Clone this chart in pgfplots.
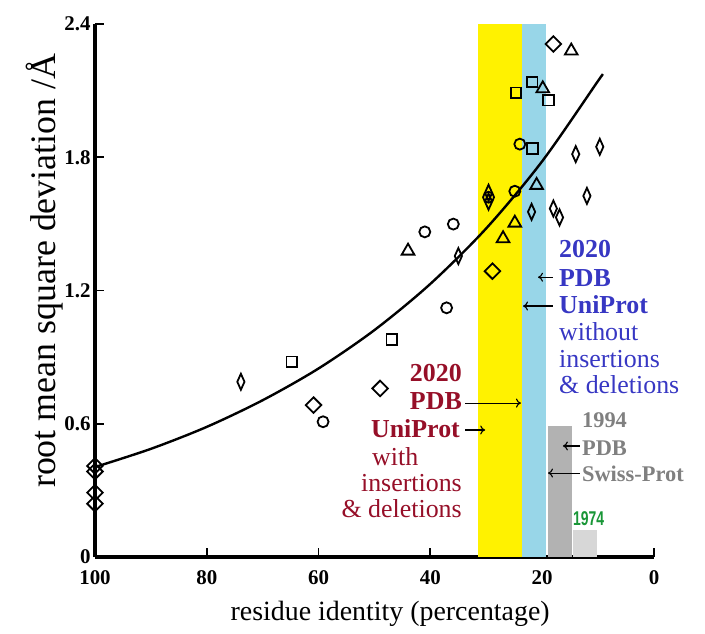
\documentclass[border=0pt]{standalone}
\usepackage{graphicx}
\usepackage{pgfplots}
\pgfplotsset{compat=1.18}
\usetikzlibrary{arrows.meta}
\usepackage{fontspec}
\newfontfamily\tnr{Liberation Serif}
\newfontfamily\lsans{Liberation Sans}
\definecolor{ylw}{RGB}{255,242,0}
\definecolor{lblue}{RGB}{152,214,232}
\definecolor{bluetxt}{RGB}{55,55,195}
\definecolor{redtxt}{RGB}{150,15,40}
\definecolor{graytxt}{RGB}{128,128,128}
\definecolor{bar94}{RGB}{178,178,178}
\definecolor{bar74}{RGB}{215,215,215}
\definecolor{grn}{RGB}{25,150,55}
\begin{document}
\begin{tikzpicture}
\path[use as bounding box] (-95bp,-77bp) rectangle (610bp,557bp);
\begin{axis}[
  scale only axis, width=559bp, height=533bp,
  xmin=0, xmax=100, ymin=0, ymax=2.4, x dir=reverse,
  clip=false,
  axis x line*=bottom, axis y line*=left,
  x axis line style={line width=3.8bp, -},
  y axis line style={line width=3.8bp, -},
  xtick={100,80,60,40,20,0},
  xticklabels={100,80,60,40,20,0},
  ytick={0,0.6,1.2,1.8,2.4},
  yticklabels={0,0.6,1.2,1.8,2.4},
  tick align=inside,
  major tick length=9bp,
  every tick/.style={black, line width=1.8bp},
  ticklabel style={font=\tnr\bfseries\fontsize{21}{21}\selectfont},
  xticklabel style={yshift=-10bp},
  yticklabel style={xshift=-1bp},
  xlabel={residue identity (percentage)},
  ylabel={root mean square deviation /Å},
  xlabel style={font=\tnr\fontsize{28}{28}\selectfont, at={(axis description cs:0.528,-0.106)}, anchor=center},
  ylabel style={font=\tnr\fontsize{36}{36}\selectfont, at={(axis description cs:-0.09,0.537)}, anchor=center},
]
% bands and bars
\addplot[fill=ylw, draw=none] coordinates {(31.5,2.4) (23.6,2.4)} \closedcycle;
\addplot[fill=lblue, draw=none] coordinates {(23.6,2.4) (19.3,2.4)} \closedcycle;
\addplot[fill=bar94, draw=none] coordinates {(19.0,0.59) (14.7,0.59)} \closedcycle;
\addplot[fill=bar74, draw=none] coordinates {(14.5,0.12) (10.2,0.12)} \closedcycle;
% fitted curve
\addplot[black, line width=2.4bp, smooth, no marks] coordinates {
(100,0.405) (90,0.487) (80,0.586) (70,0.706) (60,0.849) (50,1.022)
(40,1.230) (30,1.480) (20,1.782) (10,2.144) (9.4,2.165)};
% wide diamonds
\addplot[only marks, mark=square, mark size=5.5bp, mark options={rotate=45, line width=1.8bp, black}] coordinates {
(18.0,2.31) (100,0.41) (100,0.385) (100,0.29) (100,0.24) (60.9,0.684) (49.0,0.759) (28.9,1.287)};
% thin diamonds
\addplot[only marks, mark=diamond, mark size=8bp, mark options={xscale=0.6, line width=1.8bp, black}] coordinates {
(73.9,0.789) (35.0,1.355) (29.6,1.60) (29.6,1.64) (21.9,1.554) (18.0,1.569) (16.9,1.529) (12.0,1.626) (14.0,1.814) (9.7,1.847)};
% circles
\addplot[only marks, mark=o, mark size=5.5bp, mark options={line width=1.8bp, black}] coordinates {
(59.2,0.609) (37.1,1.122) (41.0,1.464) (35.9,1.499) (24.9,1.647) (24.0,1.859) (29.6,1.62)};
% squares
\addplot[only marks, mark=square, mark size=5.3bp, mark options={line width=1.8bp, black}] coordinates {
(64.8,0.879) (46.9,0.98) (24.7,2.09) (21.8,2.139) (18.9,2.057) (21.7,1.839)};
% triangles
\addplot[only marks, mark=triangle, mark size=7.3bp, mark options={line width=1.8bp, black}] coordinates {
(14.8,2.279) (19.9,2.109) (21.0,1.674) (24.9,1.504) (27.0,1.434) (44.0,1.378)};

% blue annotation
\node[anchor=base west, text=bluetxt, font=\tnr\fontsize{26}{26}\selectfont\bfseries, inner sep=0pt] at (axis cs:17.0,1.350) {2020};
\node[anchor=base west, text=bluetxt, font=\tnr\fontsize{26}{26}\selectfont\bfseries, inner sep=0pt] at (axis cs:17.0,1.220) {PDB};
\node[anchor=base west, text=bluetxt, font=\tnr\fontsize{26}{26}\selectfont\bfseries, inner sep=0pt] at (axis cs:17.0,1.098) {UniProt};
\node[anchor=base west, text=bluetxt, font=\tnr\fontsize{26}{26}\selectfont, inner sep=0pt] at (axis cs:17.0,0.977) {without};
\node[anchor=base west, text=bluetxt, font=\tnr\fontsize{26}{26}\selectfont, inner sep=0pt] at (axis cs:17.0,0.855) {insertions};
\node[anchor=base west, text=bluetxt, font=\tnr\fontsize{26}{26}\selectfont, inner sep=0pt] at (axis cs:17.0,0.734) {\& deletions};
\draw[-{To[length=5bp,width=9bp]}, line width=1.1bp] (axis cs:18.07,1.260) -- (axis cs:20.75,1.260);
\draw[-{To[length=5bp,width=9bp]}, line width=1.1bp] (axis cs:18.07,1.130) -- (axis cs:23.43,1.130);
% red annotation
\node[anchor=base east, text=redtxt, font=\tnr\fontsize{26}{26}\selectfont\bfseries, inner sep=0pt] at (axis cs:34.35,0.788) {2020};
\node[anchor=base east, text=redtxt, font=\tnr\fontsize{26}{26}\selectfont\bfseries, inner sep=0pt] at (axis cs:34.35,0.662) {PDB};
\node[anchor=base east, text=redtxt, font=\tnr\fontsize{26}{26}\selectfont\bfseries, inner sep=0pt] at (axis cs:34.7,0.540) {UniProt};
\node[anchor=base, text=redtxt, font=\tnr\fontsize{26}{26}\selectfont, inner sep=0pt] at (axis cs:46.3,0.414) {with};
\node[anchor=base east, text=redtxt, font=\tnr\fontsize{26}{26}\selectfont, inner sep=0pt] at (axis cs:34.35,0.293) {insertions};
\node[anchor=base east, text=redtxt, font=\tnr\fontsize{26}{26}\selectfont, inner sep=0pt] at (axis cs:34.35,0.176) {\& deletions};
\draw[-{To[length=5bp,width=9bp]}, line width=1.1bp] (axis cs:33.8,0.693) -- (axis cs:23.8,0.693);
\draw[-{To[length=5bp,width=9bp]}, line width=1.1bp] (axis cs:33.8,0.572) -- (axis cs:30.2,0.572);
% gray annotation
\node[anchor=base west, text=graytxt, font=\tnr\fontsize{22.5}{22.5}\selectfont\bfseries, inner sep=0pt] at (axis cs:12.9,0.581) {1994};
\node[anchor=base west, text=graytxt, font=\tnr\fontsize{22.5}{22.5}\selectfont\bfseries, inner sep=0pt] at (axis cs:12.9,0.459) {PDB};
\node[anchor=base west, text=graytxt, font=\tnr\fontsize{22.5}{22.5}\selectfont\bfseries, inner sep=0pt] at (axis cs:12.9,0.338) {Swiss-Prot};
\draw[-{To[length=5bp,width=9bp]}, line width=1.1bp] (axis cs:13.24,0.500) -- (axis cs:16.3,0.500);
\draw[-{To[length=5bp,width=9bp]}, line width=1.1bp] (axis cs:13.24,0.378) -- (axis cs:18.96,0.378);
% green
\node[anchor=base west, text=grn, font=\lsans\fontsize{20}{20}\selectfont\bfseries, inner sep=0pt] at (axis cs:14.5,0.144) {\scalebox{0.7}[1]{1974}};
\end{axis}
\end{tikzpicture}
\end{document}
